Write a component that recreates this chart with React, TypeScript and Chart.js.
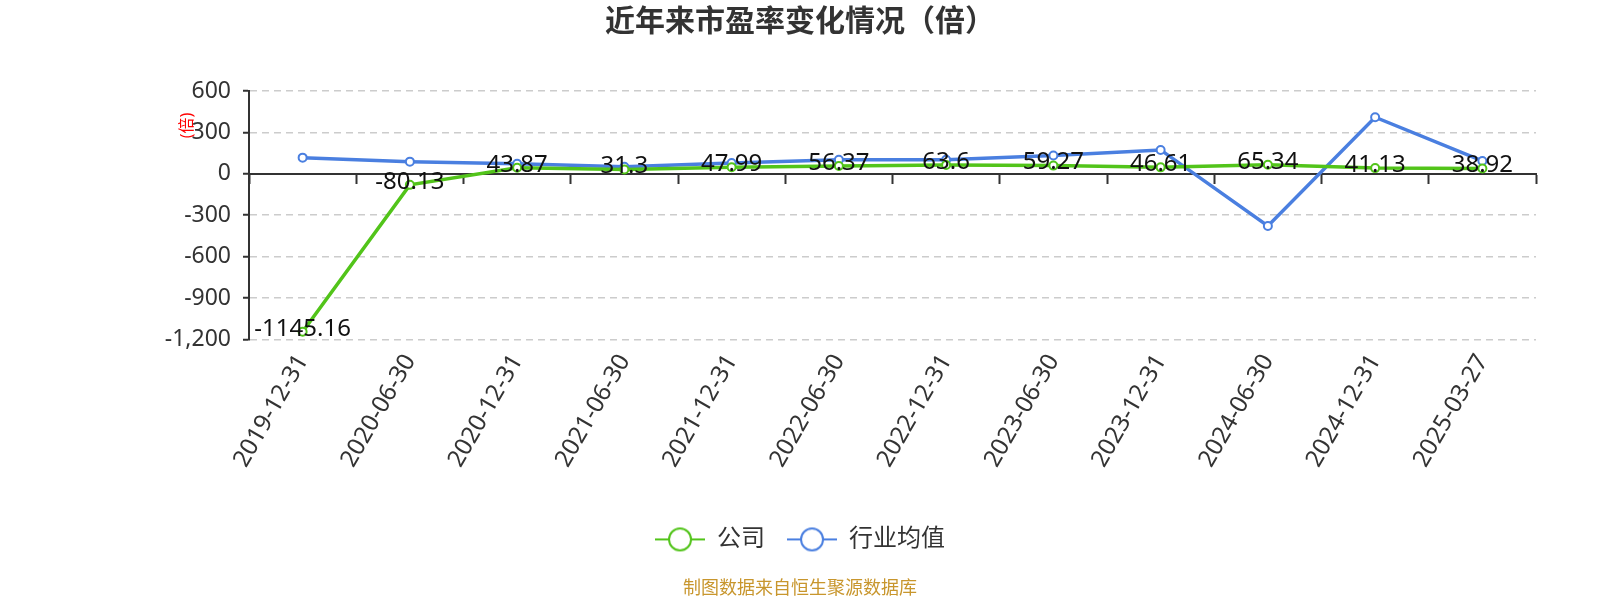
import { useEffect, useRef } from "react"
import { Chart, registerables, ChartConfiguration, Plugin } from "chart.js"

Chart.register(...registerables)

const categories = [
	"2019-12-31",
	"2020-06-30",
	"2020-12-31",
	"2021-06-30",
	"2021-12-31",
	"2022-06-30",
	"2022-12-31",
	"2023-06-30",
	"2023-12-31",
	"2024-06-30",
	"2024-12-31",
	"2025-03-27"
]
const companyValues = [-1145.16, -80.13, 43.87, 31.3, 47.99, 56.37, 63.6, 59.27, 46.61, 65.34, 41.13, 38.92]
const industryValues = [117, 88, 73, 51, 78, 102, 102, 132, 173, -378, 410, 93]
const seriesNames = ["公司", "行业均值"]
const seriesColors = ["#52c41a", "#4a7fe0"]
const yTicks = { min: -1200, max: 600, step: 300 }

const FONT = '"Noto Sans", "Noto Sans CJK SC", sans-serif'

// legend symbol: short line with an open circle in the middle
function legendSymbol(color: string) {
	const c = document.createElement("canvas")
	c.width = 50
	c.height = 26
	const ctx = c.getContext("2d") as CanvasRenderingContext2D
	ctx.strokeStyle = color
	ctx.lineWidth = 2
	ctx.beginPath()
	ctx.moveTo(0, 13)
	ctx.lineTo(50, 13)
	ctx.stroke()
	ctx.beginPath()
	ctx.arc(25, 13, 11, 0, Math.PI * 2)
	ctx.fillStyle = "#fff"
	ctx.fill()
	ctx.stroke()
	return c
}

const valueLabels: Plugin = {
	id: "valueLabels",
	afterDatasetsDraw(chart) {
		const ctx = chart.ctx
		const meta = chart.getDatasetMeta(0)
		ctx.save()
		ctx.font = `24px ${FONT}`
		ctx.fillStyle = "#111"
		ctx.textAlign = "center"
		ctx.textBaseline = "middle"
		meta.data.forEach((pt, i) => {
			ctx.fillText(String(companyValues[i]), pt.x, pt.y - 3)
		})
		ctx.restore()
	}
}

const unitLabel: Plugin = {
	id: "unitLabel",
	afterDraw(chart) {
		const ctx = chart.ctx
		const y = chart.scales.y.getPixelForValue(350)
		ctx.save()
		ctx.translate(chart.chartArea.left - 62, y)
		ctx.rotate(-Math.PI / 2)
		ctx.font = `16px ${FONT}`
		ctx.fillStyle = "#ff0000"
		ctx.textAlign = "center"
		ctx.textBaseline = "middle"
		ctx.fillText("(倍)", 0, 0)
		ctx.restore()
	}
}

function buildConfig(): ChartConfiguration {
	const symbols = seriesColors.map(legendSymbol)
	return {
		type: "line",
		data: {
			labels: categories,
			datasets: [companyValues, industryValues].map((values, i) => ({
				label: seriesNames[i],
				data: values,
				borderColor: seriesColors[i],
				backgroundColor: seriesColors[i],
				borderWidth: 3.5,
				pointRadius: 4,
				pointHoverRadius: 4,
				pointBackgroundColor: "#fff",
				pointBorderColor: seriesColors[i],
				pointBorderWidth: 2,
				tension: 0,
				xAxisID: "x"
			}))
		},
		plugins: [valueLabels, unitLabel],
		options: {
			animation: false,
			responsive: true,
			maintainAspectRatio: false,
			layout: { padding: 0 },
			plugins: {
				tooltip: { enabled: false },
				title: {
					display: true,
					text: "近年来市盈率变化情况（倍）",
					color: "#333",
					font: { family: FONT, size: 30, weight: "bold" },
					padding: { top: 4, bottom: 51 }
				},
				legend: {
					position: "bottom",
					maxHeight: 53,
					labels: {
						usePointStyle: true,
						pointStyleWidth: 50,
						padding: 22,
						color: "#333",
						font: { family: FONT, size: 24 },
						generateLabels(chart) {
							return Chart.defaults.plugins.legend.labels
								.generateLabels(chart)
								.map((item, i) => ({ ...item, pointStyle: symbols[i] as any }))
						}
					}
				},
				subtitle: {
					display: true,
					position: "bottom",
					text: "制图数据来自恒生聚源数据库",
					color: "#c8962d",
					font: { family: FONT, size: 18 },
					padding: { top: 20, bottom: 0 }
				}
			},
			scales: {
				x: {
					type: "category",
					position: "bottom",
					offset: true,
					grid: { display: false },
					border: { display: false },
					ticks: {
						color: "#333",
						font: { family: FONT, size: 24 },
						minRotation: 60,
						maxRotation: 60,
						padding: 2,
						autoSkip: false
					},
					afterFit(scale) {
						scale.height = 166
					}
				},
				x2: {
					type: "category",
					axis: "x",
					position: { y: 0 },
					offset: true,
					grid: {
						offset: true,
						drawOnChartArea: false,
						drawTicks: true,
						tickLength: 9,
						tickColor: "#333",
						tickWidth: 2,
						tickBorderDash: []
					},
					border: { display: true, color: "#333", width: 2 },
					ticks: { display: false }
				},
				y: {
					min: yTicks.min,
					max: yTicks.max,
					grid: {
						color: "#cccccc",
						lineWidth: 1.5,
						tickLength: 6,
						tickColor: "#333",
						tickWidth: 2,
						tickBorderDash: []
					},
					border: { display: true, color: "#333", width: 2, dash: [7, 5] },
					ticks: {
						stepSize: yTicks.step,
						color: "#333",
						padding: 12,
						font: { family: FONT, size: 23 },
						callback(v) {
							return Number(v).toLocaleString("en-US")
						}
					},
					afterFit(scale) {
						scale.width = 249
					}
				},
				// empty right-hand gutter
				yRight: {
					type: "linear",
					position: "right",
					grid: { display: false },
					border: { display: false },
					ticks: { display: false },
					afterFit(scale) {
						scale.width = 64
					}
				}
			}
		}
	} as ChartConfiguration
}

export default function App() {
	const canvasRef = useRef<HTMLCanvasElement>(null)

	useEffect(() => {
		document.body.style.margin = "0"
		const ctx = canvasRef.current?.getContext("2d") as CanvasRenderingContext2D
		const chart = new Chart(ctx, buildConfig())
		return () => {
			chart.destroy()
		}
	}, [])

	return (
		<div style={{ width: 1600, height: 600, position: "relative" }}>
			<canvas ref={canvasRef} />
		</div>
	)
}
